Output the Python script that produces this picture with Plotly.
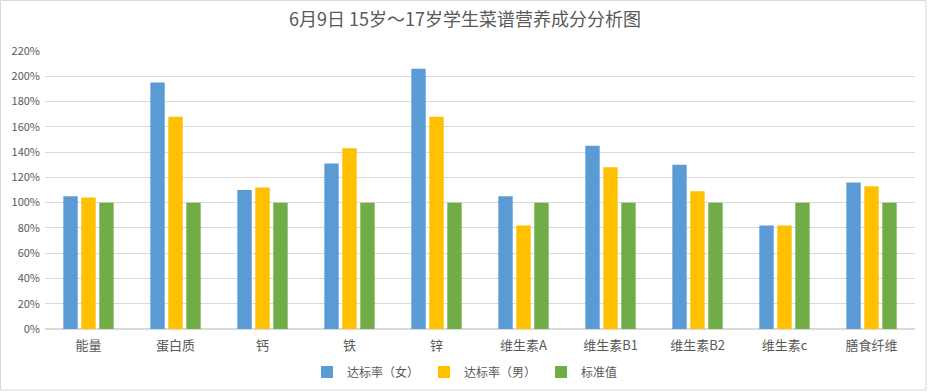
import plotly.graph_objects as go

categories = ["能量", "蛋白质", "钙", "铁", "锌", "维生素A", "维生素B1", "维生素B2", "维生素c", "膳食纤维"]
female_rate = [1.05, 1.95, 1.10, 1.31, 2.06, 1.05, 1.45, 1.30, 0.82, 1.16]
male_rate = [1.04, 1.68, 1.12, 1.43, 1.68, 0.82, 1.28, 1.09, 0.82, 1.13]
standard = [1.00, 1.00, 1.00, 1.00, 1.00, 1.00, 1.00, 1.00, 1.00, 1.00]
series_names = ["达标率（女）", "达标率（男）", "标准值"]
colors = ["#5B9BD5", "#FFC000", "#70AD47"]

FONT = "Noto Sans CJK SC, Microsoft YaHei, sans-serif"
TXT = "#595959"

fig = go.Figure()
for name, vals, c in zip(series_names, [female_rate, male_rate, standard], colors):
    fig.add_trace(go.Bar(x=categories, y=vals, name=name, marker=dict(color=c, line=dict(width=0))))

W, H = 930, 392
L, R, T, B = 45, 15, 51, 63
pw = W - L - R
ph = H - T - B

fig.update_layout(
    width=W, height=H,
    margin=dict(l=L, r=R, t=T, b=B),
    paper_bgcolor="white", plot_bgcolor="white",
    font=dict(family=FONT, color=TXT, size=12),
    title=dict(text="6月9日 15岁～17岁学生菜谱营养成分分析图", x=0.5, xanchor="center",
               y=1 - 20 / H, yanchor="middle", font=dict(size=18, color=TXT, family=FONT)),
    barmode="group", bargap=0.38, bargroupgap=0.2,
    showlegend=True,
    legend=dict(orientation="h", xref="container", yref="container",
                x=465 / W, xanchor="center", y=1 - 372 / H,
                yanchor="middle", font=dict(size=12, color=TXT), itemwidth=30,
                traceorder="normal", bgcolor="rgba(0,0,0,0)"),
    xaxis=dict(showgrid=False, showline=True, linecolor="#D9D9D9", linewidth=1,
               ticks="", tickfont=dict(size=13, color=TXT), fixedrange=True,
               ticklabelstandoff=4, automargin=False),
    yaxis=dict(range=[0, 2.2], dtick=0.2, tickformat=".0%", showgrid=True, gridcolor="#D9D9D9",
               gridwidth=1, zeroline=True, zerolinecolor="#D9D9D9", showline=False, ticks="",
               tickfont=dict(size=11, color=TXT), ticklabelstandoff=4, automargin=False),
    shapes=[dict(type="rect", xref="paper", yref="paper",
                 x0=-(L - 0.5) / pw, x1=(926 - L) / pw,
                 y0=-(390 - (T + ph)) / ph, y1=(T + ph - 0.5) / ph,
                 line=dict(color="#D9D9D9", width=1), fillcolor="rgba(0,0,0,0)", layer="below")],
)

fig.write_html("out.html", config={"displayModeBar": False},
               post_script="document.body.style.margin='0';document.body.style.overflow='hidden';")
